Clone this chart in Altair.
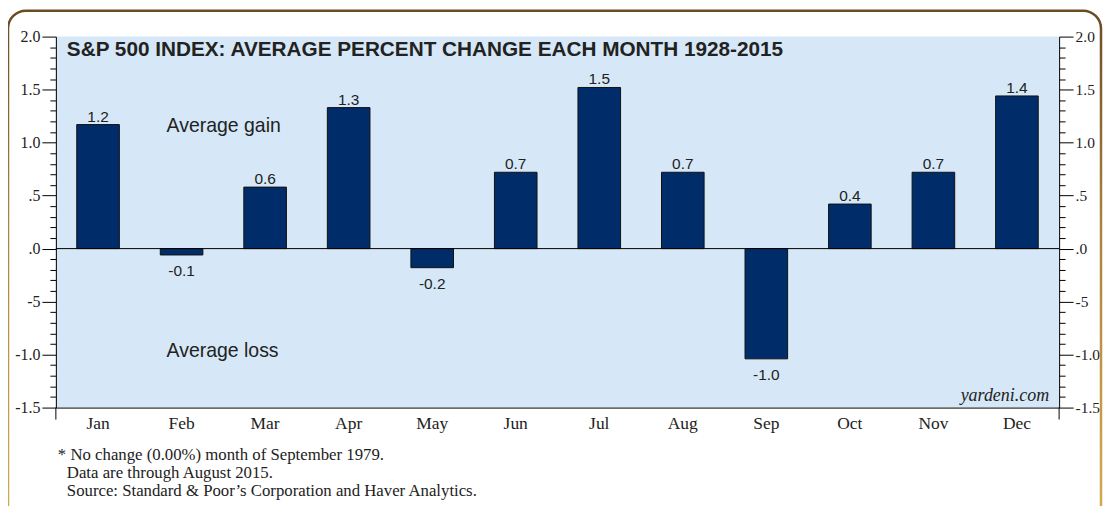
import altair as alt
import pandas as pd

months = ["Jan", "Feb", "Mar", "Apr", "May", "Jun", "Jul", "Aug", "Sep", "Oct", "Nov", "Dec"]
values = [1.17, -0.06, 0.58, 1.33, -0.18, 0.72, 1.52, 0.72, -1.04, 0.42, 0.72, 1.44]
bar_labels = ["1.2", "-0.1", "0.6", "1.3", "-0.2", "0.7", "1.5", "0.7", "-1.0", "0.4", "0.7", "1.4"]

major_values = [2.0, 1.5, 1.0, 0.5, 0.0, -0.5, -1.0, -1.5]
major_labels = ["2.0", "1.5", "1.0", ".5", ".0", "-5", "-1.0", "-1.5"]
minor_values = [round(-1.5 + 0.1 * i, 1) for i in range(36)]

title_text = "S&P 500 INDEX: AVERAGE PERCENT CHANGE EACH MONTH 1928-2015"
gain_text = "Average gain"
loss_text = "Average loss"
credit_text = "yardeni.com"
notes = [
    "* No change (0.00%) month of September 1979.",
    "Data are through August 2015.",
    "Source: Standard & Poor\u2019s Corporation and Haver Analytics.",
]

W, H = 1006, 372
SANS = "Liberation Sans"
SERIF = "Liberation Serif"
INK = "#222222"

df = pd.DataFrame({"month": months, "value": values, "label": bar_labels})

label_expr = ""
for v, lab in zip(major_values, major_labels):
    label_expr += f"abs(datum.value - ({v})) < 0.0001 ? '{lab}' : "
label_expr += "''"
major_test = "abs(datum.value*2 - round(datum.value*2)) < 0.001"

yscale = alt.Scale(domain=[-1.5, 2.0], nice=False, zero=False)

def yaxis(orient, size):
    return alt.Axis(
        orient=orient,
        values=minor_values,
        labelExpr=label_expr,
        title=None,
        grid=False,
        domain=True,
        domainColor="black",
        domainWidth=1,
        tickColor="black",
        tickWidth=1,
        tickSize={"condition": {"test": major_test, "value": 14}, "value": 6},
        labelFont=SERIF,
        labelFontSize=size,
        labelColor=INK,
        labelPadding=2,
        labelFlush=False,
        labelOverlap=False,
    )

xenc = alt.X(
    "month:N",
    sort=months,
    scale=alt.Scale(paddingInner=0.49, paddingOuter=0.25),
    axis=alt.Axis(
        title=None,
        ticks=False,
        domain=True,
        domainColor="black",
        domainWidth=1,
        labelAngle=0,
        labelFont=SERIF,
        labelFontSize=17.5,
        labelColor=INK,
        labelPadding=7,
    ),
)

bars = alt.Chart(df).mark_bar(color="#002d6a", stroke="#111111", strokeWidth=1).encode(
    x=xenc,
    y=alt.Y("value:Q", scale=yscale, axis=yaxis("left", 16)),
)

pos_text = alt.Chart(df).transform_filter("datum.value >= 0").mark_text(
    font=SANS, fontSize=15.5, color=INK, baseline="alphabetic", dy=-3
).encode(
    x=alt.X("month:N", sort=months),
    y=alt.Y("value:Q", scale=yscale, axis=None),
    text="label:N",
)

neg_text = alt.Chart(df).transform_filter("datum.value < 0").mark_text(
    font=SANS, fontSize=15.5, color=INK, baseline="top", dy=9
).encode(
    x=alt.X("month:N", sort=months),
    y=alt.Y("value:Q", scale=yscale, axis=None),
    text="label:N",
)

zero = alt.Chart(pd.DataFrame({"zero": [0.0]})).mark_rule(color="black", strokeWidth=1).encode(
    y=alt.Y("zero:Q", scale=yscale, axis=yaxis("right", 15.5))
)

one = pd.DataFrame({"a": [0]})

edge_ticks = alt.layer(
    alt.Chart(one).mark_rule(color="black", strokeWidth=1).encode(
        x=alt.value(0), y=alt.value(H), y2=alt.value(H + 12)
    ),
    alt.Chart(one).mark_rule(color="black", strokeWidth=1).encode(
        x=alt.value(W), y=alt.value(H), y2=alt.value(H + 12)
    ),
)

title = alt.Chart(pd.DataFrame({"t": [title_text]})).mark_text(
    font=SANS, fontSize=20.8, fontWeight="bold", color=INK, align="left", baseline="middle"
).encode(x=alt.value(11), y=alt.value(13), text="t:N")

gain = alt.Chart(pd.DataFrame({"t": [gain_text]})).mark_text(
    font=SANS, fontSize=19.5, color=INK, align="left", baseline="middle"
).encode(x=alt.value(111), y=alt.value(90), text="t:N")

loss = alt.Chart(pd.DataFrame({"t": [loss_text]})).mark_text(
    font=SANS, fontSize=19.5, color=INK, align="left", baseline="middle"
).encode(x=alt.value(111), y=alt.value(315), text="t:N")

credit = alt.Chart(pd.DataFrame({"t": [credit_text]})).mark_text(
    font=SERIF, fontSize=18, fontStyle="italic", color=INK, align="right", baseline="middle"
).encode(x=alt.value(996), y=alt.value(360), text="t:N")

note_layers = [
    alt.Chart(pd.DataFrame({"t": [n]})).mark_text(
        font=SERIF, fontSize=16.8, color=INK, align="left", baseline="middle"
    ).encode(x=alt.value(2 if i == 0 else 11), y=alt.value(420 + 18 * i), text="t:N")
    for i, n in enumerate(notes)
]

frame = alt.Chart(one).mark_rect(
    fillOpacity=0,
    strokeWidth=2.5,
    cornerRadius=18,
    stroke=alt.LinearGradient(
        gradient="linear",
        stops=[
            alt.GradientStop(color="#6a4b22", offset=0),
            alt.GradientStop(color="#a8823f", offset=0.4),
            alt.GradientStop(color="#d6ad4c", offset=1),
        ],
        x1=0, x2=0, y1=0, y2=1,
    ),
).encode(x=alt.value(-48), x2=alt.value(1048), y=alt.value(-26), y2=alt.value(500))

chart = alt.layer(
    frame, bars, zero, pos_text, neg_text, edge_ticks, title, gain, loss, credit, *note_layers
).resolve_axis(y="independent").properties(
    width=W,
    height=H,
    autosize=alt.AutoSizeParams(type="none"),
    padding={"left": 48, "top": 28, "right": 44, "bottom": 98},
    background="white",
).configure_view(fill="#d6e8f7", stroke=None)

chart.save("out.html", embed_options={"renderer": "svg", "actions": False})
